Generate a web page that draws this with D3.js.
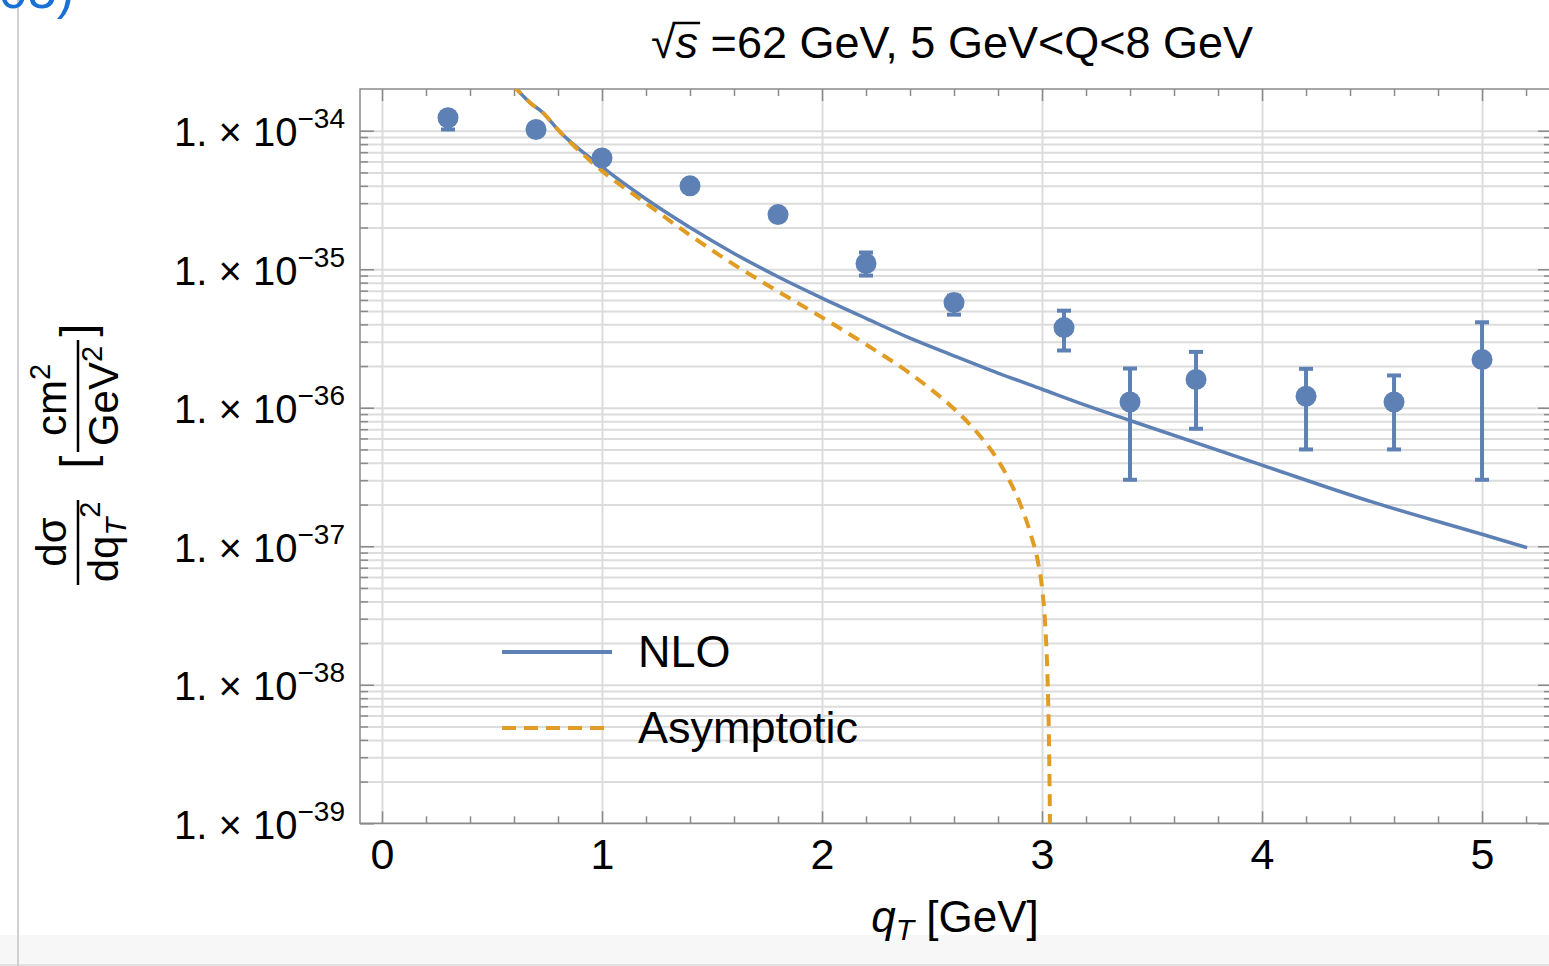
<!DOCTYPE html>
<html>
<head>
<meta charset="utf-8">
<script src="https://cdn.jsdelivr.net/npm/d3@7"></script>
<style>
body { margin: 0; background: #fff; }
svg { display: block; font-family: "Liberation Sans", Arial, sans-serif; }
</style>
</head>
<body>
<div id="chart"></div>
<script>
// measured points (qT in GeV, dsigma/dqT^2 in cm^2/GeV^2)
var ptQ   = [0.3, 0.7, 1.0, 1.4, 1.8, 2.2, 2.6, 3.1, 3.4, 3.7, 4.2, 4.6, 5.0];
var ptVal = [1.24e-34, 1.02e-34, 6.35e-35, 4.0e-35, 2.48e-35, 1.10e-35, 5.74e-36, 3.79e-36, 1.10e-36, 1.60e-36, 1.21e-36, 1.10e-36, 2.23e-36];
var ptLo  = [1.02e-34, 0.96e-34, 6.0e-35, 3.8e-35, 2.3e-35, 9.0e-36, 4.7e-36, 2.59e-36, 3.02e-37, 7.05e-37, 5.0e-37, 5.0e-37, 3.02e-37];
var ptHi  = [1.36e-34, 1.08e-34, 6.7e-35, 4.2e-35, 2.65e-35, 1.32e-35, 6.45e-36, 5.02e-36, 1.92e-36, 2.53e-36, 1.91e-36, 1.71e-36, 4.14e-36];

// NLO curve
var nloQ   = [0.595, 0.686, 0.718, 0.809, 1.0, 1.2, 1.4, 1.6, 1.8, 2.0, 2.2, 2.4, 2.6, 2.8, 3.0, 3.2, 3.4, 4.0, 4.5, 5.0, 5.205];
var nloVal = [2.14e-34, 1.53e-34, 1.41e-34, 9.8e-35, 5.47e-35, 3.21e-35, 2.0e-35, 1.30e-35, 8.83e-36, 6.19e-36, 4.42e-36, 3.18e-36, 2.37e-36, 1.78e-36, 1.36e-36, 1.04e-36, 8.09e-37, 3.85e-37, 2.09e-37, 1.22e-37, 9.77e-38];

// asymptotic curve
var asyQ   = [0.595, 0.686, 0.718, 0.809, 1.0, 1.2, 1.4, 1.6, 1.8, 2.0, 2.2, 2.4, 2.5, 2.6, 2.7, 2.8, 2.85, 2.9, 2.95, 2.98, 3.0, 3.015, 3.025, 3.032, 3.036, 3.038];
var asyVal = [2.14e-34, 1.53e-34, 1.41e-34, 9.8e-35, 5.13e-35, 2.99e-35, 1.76e-35, 1.08e-35, 6.92e-36, 4.49e-36, 2.86e-36, 1.77e-36, 1.34e-36, 9.82e-37, 6.76e-37, 4.17e-37, 3.02e-37, 2.04e-37, 1.20e-37, 7.94e-38, 5.01e-38, 2.63e-38, 1.12e-38, 3.55e-39, 1.0e-39, 3.16e-40];

var xTicks = [0, 1, 2, 3, 4, 5];
var yExps = [-34, -35, -36, -37, -38, -39];
var legendLabels = ["NLO", "Asymptotic"];

var blue = "#5e81b5", orange = "#e19c24";
var W = 1549, H = 966;
var plotLeft = 360, plotTop = 89, width = 1192, height = 734.3;

var svg = d3.select("#chart").append("svg")
    .attr("width", W)
    .attr("height", H);

// page decorations around the figure
svg.append("rect").attr("x", 0).attr("y", 935).attr("width", W).attr("height", 31).attr("fill", "#f7f7f7");
svg.append("line").attr("x1", 0).attr("x2", W).attr("y1", 965).attr("y2", 965).attr("stroke", "#dadada").attr("stroke-width", 1.5);
svg.append("line").attr("x1", 18).attr("x2", 18).attr("y1", 0).attr("y2", H).attr("stroke", "#d0d0d0").attr("stroke-width", 2);
svg.append("text").attr("x", 74).attr("y", 8).attr("text-anchor", "end")
    .attr("font-size", 52).attr("fill", "#1a70d4").text("005)");

var g = svg.append("g").attr("transform", "translate(" + plotLeft + "," + plotTop + ")");

var x = d3.scaleLinear().domain([-0.1, 5.318]).range([0, width]);
var y = d3.scaleLog().domain([1e-39, 2e-34]).range([height, 0]);

// all log grid values k*10^n
var yMajor = yExps.map(function(e) { return Math.pow(10, e); });
var yAll = [];
for (var n = -39; n <= -35; n++) {
    for (var k = 1; k <= 9; k++) yAll.push(k * Math.pow(10, n));
}
yAll.push(1e-34);
var yMinor = yAll.filter(function(v) { return yMajor.indexOf(v) < 0; });
var xMinor = d3.range(0, 27).map(function(i) { return i / 5; }).filter(function(v) { return v % 1 !== 0; });

function styleAxis(sel, color, w) {
    sel.select(".domain").remove();
    sel.selectAll(".tick line").attr("stroke", color).attr("stroke-width", w);
}

// grid
g.append("g").call(d3.axisLeft(y).tickValues(yAll).tickSize(-width).tickFormat(""))
    .call(styleAxis, "#dcdcdc", 2);
g.append("g").attr("transform", "translate(0," + height + ")")
    .call(d3.axisBottom(x).tickValues(xTicks).tickSize(-height).tickFormat(""))
    .call(styleAxis, "#dcdcdc", 2);

// frame ticks
var tc = "#8a8a8a";
var yLab = g.append("g")
    .call(d3.axisLeft(y).tickValues(yMajor).tickSize(-14).tickPadding(15).tickFormat(""))
    .call(styleAxis, tc, 1.5);
yLab.selectAll(".tick text").each(function(d) {
    var t = d3.select(this).attr("font-size", 40).attr("fill", "#000").attr("dy", "0.38em")
        .attr("font-family", "Liberation Sans, Arial, sans-serif");
    t.append("tspan").text("1. \u00d7 10");
    t.append("tspan").attr("font-size", 28).attr("dy", -18).text("\u2212" + Math.abs(Math.round(Math.log10(d))));
});
g.append("g").call(d3.axisLeft(y).tickValues(yMinor).tickSize(-8).tickFormat("")).call(styleAxis, tc, 1.5);
g.append("g").attr("transform", "translate(" + width + ",0)")
    .call(d3.axisRight(y).tickValues(yMajor).tickSize(-14).tickFormat("")).call(styleAxis, tc, 1.5);
g.append("g").attr("transform", "translate(" + width + ",0)")
    .call(d3.axisRight(y).tickValues(yMinor).tickSize(-8).tickFormat("")).call(styleAxis, tc, 1.5);

var xAx = g.append("g").attr("transform", "translate(0," + height + ")")
    .call(d3.axisBottom(x).tickValues(xTicks).tickSize(-12).tickPadding(15).tickFormat(d3.format("d")))
    .call(styleAxis, tc, 1.5);
xAx.selectAll(".tick text").attr("font-size", 43).attr("fill", "#000")
    .attr("font-family", "Liberation Sans, Arial, sans-serif");
g.append("g").attr("transform", "translate(0," + height + ")")
    .call(d3.axisBottom(x).tickValues(xMinor).tickSize(-7).tickFormat("")).call(styleAxis, tc, 1.5);
g.append("g").call(d3.axisTop(x).tickValues(xTicks).tickSize(-12).tickFormat("")).call(styleAxis, tc, 1.5);
g.append("g").call(d3.axisTop(x).tickValues(xMinor).tickSize(-7).tickFormat("")).call(styleAxis, tc, 1.5);

g.append("rect").attr("width", width).attr("height", height)
    .attr("fill", "none").attr("stroke", tc).attr("stroke-width", 1.5);

// curves
g.append("clipPath").attr("id", "clip").append("rect").attr("width", width).attr("height", height);
var plot = g.append("g").attr("clip-path", "url(#clip)");

var line = d3.line()
    .x(function(d) { return x(d[0]); })
    .y(function(d) { return y(d[1]); })
    .curve(d3.curveMonotoneX);

plot.append("path").datum(d3.zip(nloQ, nloVal)).attr("d", line)
    .attr("fill", "none").attr("stroke", blue).attr("stroke-width", 3.5);
plot.append("path").datum(d3.zip(asyQ, asyVal)).attr("d", line)
    .attr("fill", "none").attr("stroke", orange).attr("stroke-width", 4)
    .attr("stroke-dasharray", "12,8");

// data points with error bars
var pts = plot.selectAll(".pt").data(d3.range(ptQ.length)).enter().append("g");
pts.append("line")
    .attr("x1", function(i) { return x(ptQ[i]); }).attr("x2", function(i) { return x(ptQ[i]); })
    .attr("y1", function(i) { return y(ptLo[i]); }).attr("y2", function(i) { return y(ptHi[i]); })
    .attr("stroke", blue).attr("stroke-width", 4);
[ptLo, ptHi].forEach(function(arr) {
    pts.append("line")
        .attr("x1", function(i) { return x(ptQ[i]) - 7; }).attr("x2", function(i) { return x(ptQ[i]) + 7; })
        .attr("y1", function(i) { return y(arr[i]); }).attr("y2", function(i) { return y(arr[i]); })
        .attr("stroke", blue).attr("stroke-width", 4);
});
pts.append("circle")
    .attr("cx", function(i) { return x(ptQ[i]); })
    .attr("cy", function(i) { return y(ptVal[i]); })
    .attr("r", 10.5).attr("fill", blue);

// legend
var leg = svg.append("g").attr("transform", "translate(502,652)");
legendLabels.forEach(function(lab, i) {
    var row = leg.append("g").attr("transform", "translate(0," + (i * 76) + ")");
    row.append("line").attr("x1", 0).attr("x2", 110).attr("y1", 0).attr("y2", 0)
        .attr("stroke", i === 0 ? blue : orange).attr("stroke-width", 4)
        .attr("stroke-dasharray", i === 0 ? null : "14,8");
    row.append("text").attr("x", 136).attr("y", 15).attr("font-size", 45).text(lab);
});

// title
var title = svg.append("text").attr("x", 952).attr("y", 58).attr("text-anchor", "middle").attr("font-size", 45);
title.append("tspan").text("\u221a");
title.append("tspan").attr("font-style", "italic").text("s");
title.append("tspan").text(" =62 GeV, 5 GeV<Q<8 GeV");
var sBox = title.node().getExtentOfChar(1);
var rBox = title.node().getExtentOfChar(0);
svg.append("line")
    .attr("x1", rBox.x + rBox.width - 3).attr("x2", sBox.x + sBox.width + 2)
    .attr("y1", rBox.y + 6).attr("y2", rBox.y + 6)
    .attr("stroke", "#000").attr("stroke-width", 2.5);

// x label
var xl = svg.append("text").attr("x", 955).attr("y", 932).attr("text-anchor", "middle").attr("font-size", 44);
xl.append("tspan").attr("font-style", "italic").text("q");
xl.append("tspan").attr("font-style", "italic").attr("font-size", 30).attr("dy", 8).text("T");
xl.append("tspan").attr("dy", -8).text(" [GeV]");

// y label, built in rotated frame
var yl = svg.append("g").attr("transform", "translate(78,450) rotate(-90)").attr("font-size", 42);
yl.append("line").attr("x1", -135).attr("x2", -50).attr("stroke", "#000").attr("stroke-width", 2.5);
yl.append("text").attr("x", -92).attr("y", -12).attr("text-anchor", "middle").text("d\u03c3");
var den = yl.append("text").attr("x", -92).attr("y", 40).attr("text-anchor", "middle");
den.append("tspan").text("dq");
den.append("tspan").attr("font-style", "italic").attr("font-size", 29).attr("dy", 8).text("T");
den.append("tspan").attr("font-size", 29).attr("dy", -26).text("2");
yl.append("text").attr("x", -12).attr("y", 15).attr("text-anchor", "middle").attr("font-size", 46).text("[");
yl.append("line").attr("x1", -2).attr("x2", 110).attr("stroke", "#000").attr("stroke-width", 2.5);
var num = yl.append("text").attr("x", 50).attr("y", -12).attr("text-anchor", "middle");
num.append("tspan").text("cm");
num.append("tspan").attr("font-size", 29).attr("dy", -16).text("2");
var unit = yl.append("text").attr("x", 54).attr("y", 40).attr("text-anchor", "middle");
unit.append("tspan").text("GeV");
unit.append("tspan").attr("font-size", 29).attr("dy", -16).text("2");
yl.append("text").attr("x", 120).attr("y", 15).attr("text-anchor", "middle").attr("font-size", 46).text("]");
</script>
</body>
</html>
